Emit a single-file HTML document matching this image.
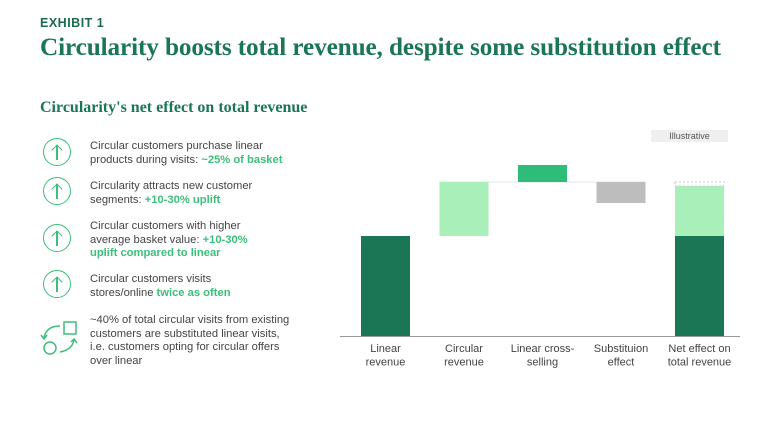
<!DOCTYPE html>
<html><head><meta charset="utf-8"><style>
body{margin:0;width:768px;height:432px;background:#fff;overflow:hidden;font-family:"Liberation Sans",sans-serif;position:relative}
.abs{position:absolute}
#exh{left:40px;top:16px;font-size:12.5px;font-weight:bold;color:#1b6b4c;letter-spacing:0.5px}
#title{left:40px;top:34px;font-family:"Liberation Serif",serif;font-weight:bold;font-size:25.2px;color:#1a7654;white-space:nowrap;letter-spacing:-0.1px}
#sub{left:40px;top:99px;font-family:"Liberation Serif",serif;font-weight:bold;font-size:16px;color:#1a7654;white-space:nowrap}
.item{left:90px;font-size:11.2px;line-height:13.5px;color:#444;white-space:nowrap}
.item b{color:#3bbf7a}
.ic{left:43px;width:28px;height:28px;border:1.5px solid #3bbf7a;border-radius:50%;box-sizing:border-box}
.ic::before{content:"";position:absolute;left:12.2px;top:6px;width:1.5px;height:15px;background:#3bbf7a}
.ic::after{content:"";position:absolute;left:8.5px;top:7px;width:7px;height:7px;border-left:1.5px solid #3bbf7a;border-top:1.5px solid #3bbf7a;transform:rotate(45deg)}
</style></head><body>
<div class="abs" id="exh">EXHIBIT 1</div>
<div class="abs" id="title">Circularity boosts total revenue, despite some substitution effect</div>
<div class="abs" id="sub">Circularity's net effect on total revenue</div>

<div class="abs ic" style="top:138px"></div>
<div class="abs item" style="top:140px">Circular customers purchase linear<br>products during visits: <b>~25% of basket</b></div>
<div class="abs ic" style="top:177px"></div>
<div class="abs item" style="top:180px">Circularity attracts new customer<br>segments: <b>+10-30% uplift</b></div>
<div class="abs ic" style="top:224px"></div>
<div class="abs item" style="top:220px">Circular customers with higher<br>average basket value: <b>+10-30%</b><br><b>uplift compared to linear</b></div>
<div class="abs ic" style="top:270px"></div>
<div class="abs item" style="top:273px">Circular customers visits<br>stores/online <b>twice as often</b></div>
<svg class="abs" style="left:40px;top:318px" width="40" height="40">
<g fill="none" stroke="#3bbf7a" stroke-width="1.5">
<rect x="24" y="4" width="12" height="12"/><circle cx="10" cy="30" r="6"/>
<path d="M20,8 Q6,8 4,20"/><path d="M1,17 L4,21 L7,17"/>
<path d="M20,34 Q32,32 34,22"/><path d="M31,24 L34,21 L37,25"/>
</g></svg>
<div class="abs item" style="top:314px">~40% of total circular visits from existing<br>customers are substituted linear visits,<br>i.e. customers opting for circular offers<br>over linear</div>

<div class="abs" style="left:651px;top:130px;width:77px;height:12px;background:#efefef;font-size:9px;color:#555;text-align:center;line-height:12px">Illustrative</div>

<svg class="abs" id="chart" style="left:0;top:0" width="768" height="432"></svg>
<script>
const categories=["Linear\nrevenue","Circular\nrevenue","Linear cross-\nselling","Substituion\neffect","Net effect on\ntotal revenue"];
const linearValue=100;
const circularValue=54;
const crossSellValue=17;
const substitutionValue=-21;
const ns="http://www.w3.org/2000/svg";
const svg=document.getElementById('chart');
const base=336, scale=1.0, x0=361, step=78.5, bw=49;
const y=v=>base-v*scale;
const xb=i=>x0+i*step;
function rect(x,y1,y2,fill,name,extra){const r=document.createElementNS(ns,'rect');
r.setAttribute('x',x);r.setAttribute('y',Math.min(y1,y2));r.setAttribute('width',bw);r.setAttribute('height',Math.abs(y2-y1));r.setAttribute('fill',fill);
if(extra)for(const k in extra)r.setAttribute(k,extra[k]);


svg.appendChild(r);return r;}
const level=linearValue+circularValue;
const ln=document.createElementNS(ns,'line');
ln.setAttribute('x1',xb(1));ln.setAttribute('x2',xb(3)+bw);ln.setAttribute('y1',y(level));ln.setAttribute('y2',y(level));ln.setAttribute('stroke','#e4e4e4');ln.setAttribute('stroke-width','1');


svg.appendChild(ln);
rect(xb(0),y(0),y(linearValue),"#1a7654","bar-linear-revenue");
rect(xb(1),y(linearValue),y(level),"#a8efb9","bar-circular-revenue");
rect(xb(2),y(level),y(level+crossSellValue),"#2dbd79","bar-linear-cross-selling");
rect(xb(3),y(level),y(level+substitutionValue),"#bdbdbd","bar-substitution-effect");
const net=level+crossSellValue+substitutionValue;
rect(xb(4),y(0),y(linearValue),"#1a7654","bar-net-linear");
rect(xb(4),y(linearValue),y(net),"#a8efb9","bar-net-circular");
if(level>net)rect(xb(4),y(net),y(level),"none","bar-net-substituted-outline",{stroke:"#ccc","stroke-dasharray":"2,2","stroke-width":"1"});
const ax=document.createElementNS(ns,'line');
ax.setAttribute('x1',340);ax.setAttribute('x2',740);ax.setAttribute('y1',base+0.5);ax.setAttribute('y2',base+0.5);ax.setAttribute('stroke','#999');


svg.appendChild(ax);
categories.forEach((cat,i)=>{const t=document.createElementNS(ns,'text');
t.setAttribute('x',xb(i)+bw/2);t.setAttribute('y',352);t.setAttribute('text-anchor','middle');t.setAttribute('font-size','11');t.setAttribute('fill','#444');t.setAttribute('font-family','Liberation Sans, sans-serif');
cat.split("\n").forEach((s,j)=>{const ts=document.createElementNS(ns,'tspan');ts.setAttribute('x',xb(i)+bw/2);ts.setAttribute('dy',j?13.5:0);ts.textContent=s;t.appendChild(ts);});


svg.appendChild(t);});
</script>
</body></html>
